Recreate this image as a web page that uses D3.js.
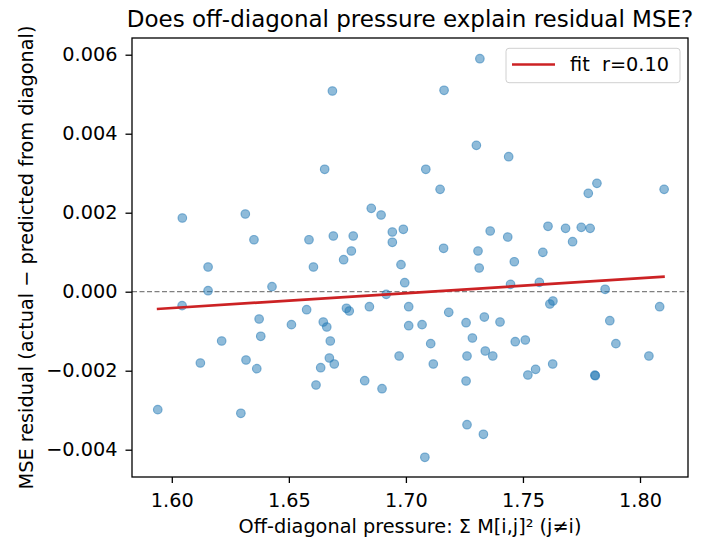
<!DOCTYPE html>
<html><head><meta charset="utf-8">
<script src="https://cdn.jsdelivr.net/npm/d3@7"></script>
<style>body{margin:0;background:#fff}svg{display:block}text{font-family:"DejaVu Sans",sans-serif;fill:#000}</style>
</head><body><svg id="c" width="705" height="540"></svg>
<script>
const pressure = [1.6686,1.6653,1.6045,1.6314,1.6351,1.6852,1.6894,1.6586,1.6690,1.6775,1.6942,1.6989,1.6942,1.6767,1.6734,1.6155,1.6605,1.6979,
1.7316,1.7163,1.7301,1.7439,1.7085,1.7146,1.7816,1.7779,1.8103,1.7360,1.7435,1.7607,1.7682,1.7749,1.7787,1.7712,1.7161,1.7308,1.7585,1.7463,1.7313,
1.6155,1.6044,1.6428,1.6576,1.6916,1.6995,1.6746,1.6758,1.6844,1.7012,1.6373,1.6511,1.6647,1.6662,1.7012,1.6213,1.6380,1.6677,1.6122,1.6317,1.6363,1.6673,1.6694,1.6636,1.6971,1.6616,1.6824,1.6898,1.5940,1.6295,
1.7447,1.7570,1.7851,1.7615,1.7628,1.8084,1.7183,1.7069,1.7257,1.7335,1.7402,1.7871,1.7284,1.7106,1.7467,1.7510,1.7897,1.7261,1.7339,1.7371,1.8038,1.7117,1.7627,1.7521,1.7554,1.7809,1.7807,1.7257,1.7261,1.7331,1.7081];
const residual = [0.005081,0.003099,0.001866,0.001967,0.001316,0.002111,0.001942,0.001316,0.001410,0.001410,0.001511,0.001580,0.001251,0.001030,0.000810,0.000625,0.000625,0.000684,
0.005899,0.005099,0.003706,0.003418,0.003099,0.002592,0.002744,0.002491,0.002592,0.001537,0.001385,0.001656,0.001605,0.001630,0.001605,0.001266,0.001099,0.001030,0.000997,0.000759,0.000600,
0.000025,-0.000354,0.000127,-0.000456,-0.000066,0.000228,-0.000420,-0.000489,-0.000380,-0.000380,-0.000691,-0.000835,-0.000767,-0.000894,-0.000861,-0.001248,-0.001129,-0.001248,-0.001805,-0.001729,-0.001949,-0.001678,-0.001830,-0.001924,-0.001628,-0.002362,-0.002253,-0.002456,-0.002987,-0.003078,
0.000187,0.000238,0.000061,-0.000311,-0.000235,-0.000380,-0.000522,-0.000835,-0.000785,-0.000641,-0.000767,-0.000734,-0.001172,-0.001316,-0.001266,-0.001223,-0.001316,-0.001628,-0.001501,-0.001628,-0.001628,-0.001830,-0.001830,-0.002109,-0.001965,-0.002127,-0.002114,-0.002261,-0.003367,-0.003610,-0.004192];
const fitX = [1.5936, 1.8106];
const fitY = [-0.000438, 0.000380];
const xTicks = [1.60, 1.65, 1.70, 1.75, 1.80];
const yTicks = [-0.004, -0.002, 0.000, 0.002, 0.004, 0.006];
const fitLabel = "fit  r=0.10";

const svg = d3.select("#c");
const L = 132, T = 38, R = 688, B = 477;
const FS = 19.3;
const RED = "#cc2224";
const x = d3.scaleLinear().domain([1.5830, 1.8205]).range([L, R]);
const y = d3.scaleLinear().domain([-0.004691, 0.006423]).range([B, T]);

// zero line
svg.append("line").attr("x1", L).attr("x2", R).attr("y1", y(0)).attr("y2", y(0))
  .attr("stroke", "#808080").attr("stroke-width", 1.2).attr("stroke-dasharray", "5,2.5");

// points
svg.append("g").selectAll("circle").data(pressure.map((p, i) => [p, residual[i]])).join("circle")
  .attr("cx", d => x(d[0])).attr("cy", d => y(d[1])).attr("r", 4.3)
  .attr("fill", "#1f77b4").attr("fill-opacity", 0.5)
  .attr("stroke", "#1f77b4").attr("stroke-opacity", 0.55).attr("stroke-width", 1.1);

// fit line
svg.append("line").attr("x1", x(fitX[0])).attr("y1", y(fitY[0])).attr("x2", x(fitX[1])).attr("y2", y(fitY[1]))
  .attr("stroke", RED).attr("stroke-width", 2.7);

// frame
svg.append("rect").attr("x", L).attr("y", T).attr("width", R - L).attr("height", B - T)
  .attr("fill", "none").attr("stroke", "#000").attr("stroke-width", 1.3);

// axes
const fmtY = v => (v < 0 ? "\u2212" : "") + d3.format(".3f")(Math.abs(v));
const xa = svg.append("g").attr("transform", `translate(0,${B})`)
  .call(d3.axisBottom(x).tickValues(xTicks).tickFormat(d3.format(".2f")).tickSize(6).tickPadding(10));
const ya = svg.append("g").attr("transform", `translate(${L},0)`)
  .call(d3.axisLeft(y).tickValues(yTicks).tickFormat(fmtY).tickSize(6.5).tickPadding(8));
[xa, ya].forEach(a => {
  a.select(".domain").remove();
  a.selectAll("line").attr("stroke", "#000").attr("stroke-width", 1.3);
  a.selectAll("text").attr("font-size", FS).attr("font-family", "DejaVu Sans").attr("fill", "#000");
});

// title and labels
svg.append("text").attr("x", (L + R) / 2).attr("y", 26.7).attr("text-anchor", "middle")
  .attr("font-size", 23).text("Does off-diagonal pressure explain residual MSE?");
svg.append("text").attr("x", (L + R) / 2).attr("y", 532.5).attr("text-anchor", "middle")
  .attr("font-size", FS).text("Off-diagonal pressure: \u03a3 M[i,j]\u00b2 (j\u2260i)");
svg.append("text").attr("transform", `translate(33,${(T + B) / 2}) rotate(-90)`).attr("text-anchor", "middle")
  .attr("font-size", FS).text("MSE residual (actual \u2212 predicted from diagonal)");

// legend
const lg = svg.append("g");
lg.append("rect").attr("x", 506).attr("y", 48.3).attr("width", 174).attr("height", 34.4).attr("rx", 3)
  .attr("fill", "#fff").attr("fill-opacity", 0.8).attr("stroke", "#d0d0d0").attr("stroke-width", 1);
lg.append("line").attr("x1", 512).attr("x2", 555).attr("y1", 64.5).attr("y2", 64.5)
  .attr("stroke", RED).attr("stroke-width", 2.7);
lg.append("text").attr("x", 570).attr("y", 71).attr("font-size", FS).style("white-space", "pre").text(fitLabel);
</script></body></html>
